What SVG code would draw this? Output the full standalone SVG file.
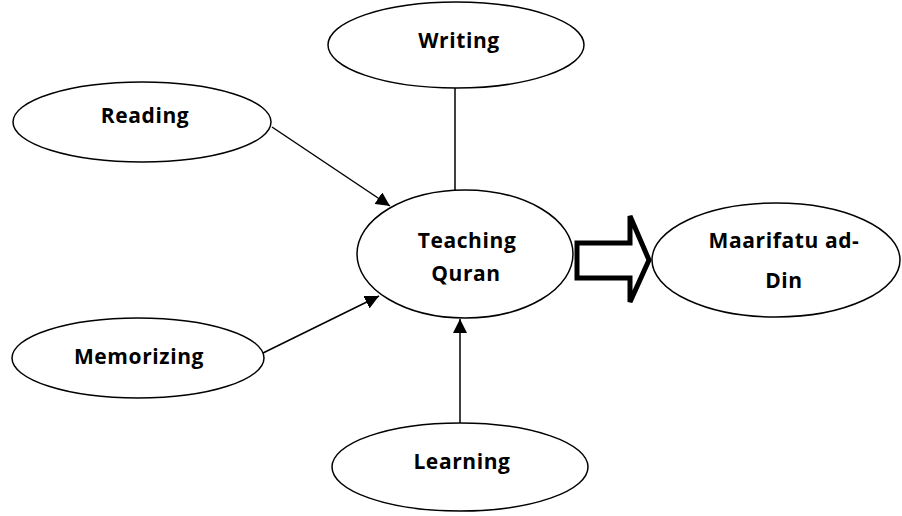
<svg xmlns="http://www.w3.org/2000/svg" width="902" height="516" viewBox="0 0 902 516">
<style>
.n{fill:#fff;stroke:#000;stroke-width:1.5}
.t{font-family:"Open Sans","Liberation Sans",sans-serif;font-weight:bold;font-size:21px;letter-spacing:0.6px;fill:#000;text-anchor:middle}
.c{stroke:#000;stroke-width:1.5;fill:none}
</style>
<defs>
<marker id="ah" viewBox="0 0 10 10" refX="10" refY="5" markerWidth="14" markerHeight="14" markerUnits="userSpaceOnUse" orient="auto">
<path d="M0,0 L10,5 L0,10 Z" fill="#000"/>
</marker>
</defs>
<rect width="902" height="516" fill="#fff"/>
<g id="connectors">
<line class="c" x1="455" y1="88" x2="455" y2="190"/>
<line class="c" x1="272" y1="127" x2="390" y2="206" marker-end="url(#ah)"/>
<line class="c" x1="263" y1="353" x2="379" y2="296" marker-end="url(#ah)"/>
<line class="c" x1="460" y1="423" x2="460" y2="319" marker-end="url(#ah)"/>
<polygon points="577,243 630,243 630,216 649,260 630,302 630,278 577,278" fill="#fff" stroke="#000" stroke-width="5" stroke-linejoin="miter"/>
</g>
<g id="writing"><ellipse class="n" cx="456" cy="45" rx="128" ry="43"/><text class="t" x="459" y="48">Writing</text></g>
<g id="reading"><ellipse class="n" cx="142" cy="122" rx="129" ry="40"/><text class="t" x="145" y="123">Reading</text></g>
<g id="teaching"><ellipse class="n" cx="465" cy="254" rx="108" ry="64"/><text class="t" x="467" y="248">Teaching</text><text class="t" x="466" y="281">Quran</text></g>
<g id="maarifatu"><ellipse class="n" cx="776" cy="260" rx="124" ry="57"/><text class="t" x="784" y="248">Maarifatu ad-</text><text class="t" x="784" y="288">Din</text></g>
<g id="memorizing"><ellipse class="n" cx="138" cy="358" rx="126" ry="40"/><text class="t" x="139" y="364">Memorizing</text></g>
<g id="learning"><ellipse class="n" cx="460" cy="467" rx="128" ry="44"/><text class="t" x="462" y="469">Learning</text></g>
</svg>
